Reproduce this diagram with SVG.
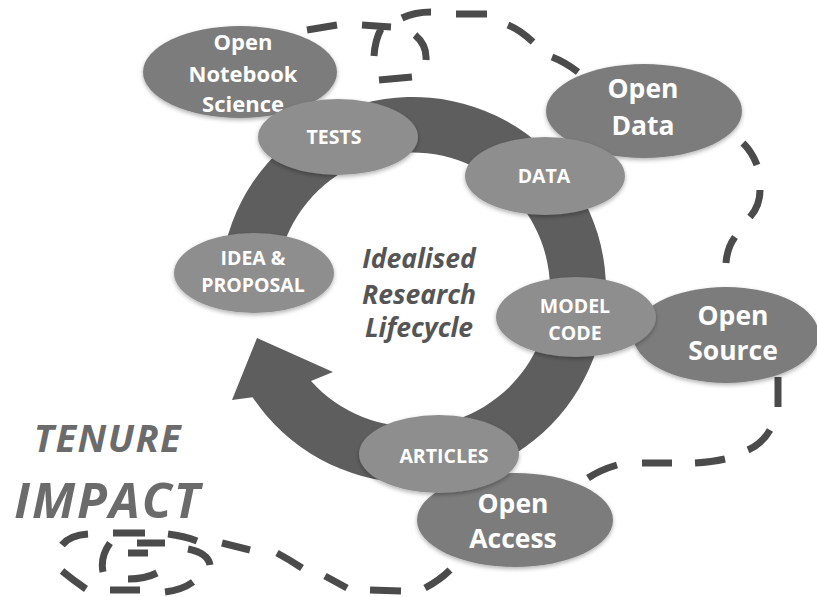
<svg xmlns="http://www.w3.org/2000/svg" width="817" height="597" viewBox="0 0 817 597">
<style>
.dash{fill:none;stroke:#4b4b4b;stroke-width:7;stroke-linecap:butt;stroke-linejoin:round}
.cyc{fill:#8e8e8e}
.opn{fill:#7b7b7b}
.lbl{font-family:"Open Sans","Liberation Sans",sans-serif;font-weight:bold;fill:#fff;text-anchor:middle}
.s18{font-size:19.5px}
.s23{font-size:22px}
.s28{font-size:26.5px}
.ctr{font-family:"Open Sans","Liberation Sans",sans-serif;font-weight:bold;font-style:italic;fill:#555;text-anchor:middle;font-size:26.5px}
.big{font-family:"Open Sans","Liberation Sans",sans-serif;font-weight:bold;font-style:italic;fill:#6b6b6b;text-anchor:middle}
</style>
<defs>
<filter id="sh" x="-20%" y="-20%" width="140%" height="150%">
<feDropShadow dx="0" dy="2" stdDeviation="2" flood-color="#000" flood-opacity="0.3"/>
</filter>
</defs>
<rect width="817" height="597" fill="#fff"/>
<g id="connectors">
<path class="dash" d="M307,30 L337,25 M362,25 L391,27 M381,29 Q375,40 374,56 M379,80 L412,77 M415,35 Q427,45 426,60 M402,18 Q415,12 431,12 M456,14 L487,14 M508,25 Q520,30 533,42 M552,57 Q565,62 578,72"/>
<path class="dash" d="M743,143 Q752,152 757,165 M760,190 Q760,206 750,217 M735,237 Q727,248 726,263"/>
<path class="dash" d="M778,377 L778,407 M770,430 Q762,444 748,450 M695,463 Q712,462 725,459 M642,463 L672,463 M588,478 Q600,470 617,465"/>
<path class="dash" d="M450,570 Q440,580 425,588 M370,590 L401,591 M325,576 Q336,582 347,588 M277,553 Q290,560 302,568 M222,543 L250,550 M168,534 Q184,536 197,541 M113,533 L145,533 M62,545 Q70,535 88,534 M62,571 Q73,580 86,589 M110,590 L140,590 M165,592 Q182,590 193,582 M188,549 Q208,553 210,565 M110,543 Q100,557 103,572 M137,543 L165,543 M128,553 L148,553 M128,579 Q145,579 157,573"/>
</g>
<g id="ring">
<path d="M220,290 A193,193 0 1 1 252.6,397.3 L232,400 L257,338 L333,372 L311,381 A137,137 0 1 0 276,290 Z" fill="#5e5e5e"/>
</g>
<g id="open-notebook">
<ellipse cx="240" cy="72" rx="97" ry="46" class="opn" filter="url(#sh)"/>
<text class="lbl s23" x="243" y="50">Open</text>
<text class="lbl s23" x="243" y="82">Notebook</text>
<text class="lbl s23" x="243" y="112">Science</text>
</g>
<g id="open-data">
<ellipse cx="644" cy="111" rx="98" ry="47" class="opn" filter="url(#sh)"/>
<text class="lbl s28" x="643" y="98">Open</text>
<text class="lbl s28" x="643" y="135">Data</text>
</g>
<g id="open-source">
<ellipse cx="726" cy="335" rx="93" ry="48" class="opn" filter="url(#sh)"/>
<text class="lbl s28" x="733" y="325">Open</text>
<text class="lbl s28" x="733" y="360">Source</text>
</g>
<g id="open-access">
<ellipse cx="515" cy="520" rx="98" ry="47" class="opn" filter="url(#sh)"/>
<text class="lbl s28" x="513" y="513">Open</text>
<text class="lbl s28" x="513" y="548">Access</text>
</g>
<g id="tests">
<ellipse cx="338" cy="137" rx="80" ry="38" class="cyc" filter="url(#sh)"/>
<text class="lbl s18" x="334" y="144">TESTS</text>
</g>
<g id="data">
<ellipse cx="545" cy="176" rx="80" ry="39" class="cyc" filter="url(#sh)"/>
<text class="lbl s18" x="544" y="183">DATA</text>
</g>
<g id="idea-proposal">
<ellipse cx="254" cy="273" rx="80" ry="40" class="cyc" filter="url(#sh)"/>
<text class="lbl s18" x="253" y="265">IDEA &amp;</text>
<text class="lbl s18" x="253" y="292">PROPOSAL</text>
</g>
<g id="model-code">
<ellipse cx="576" cy="317" rx="80" ry="40" class="cyc" filter="url(#sh)"/>
<text class="lbl s18" x="575" y="313">MODEL</text>
<text class="lbl s18" x="575" y="340">CODE</text>
</g>
<g id="articles">
<ellipse cx="439" cy="454" rx="80" ry="39" class="cyc" filter="url(#sh)"/>
<text class="lbl s18" x="444" y="463">ARTICLES</text>
</g>
<g id="center-label">
<text class="ctr" x="419" y="268">Idealised</text>
<text class="ctr" x="419" y="304">Research</text>
<text class="ctr" x="419" y="337">Lifecycle</text>
</g>
<g id="tenure-impact">
<text class="big" x="108" y="452" font-size="38" letter-spacing="1.5">TENURE</text>
<text class="big" x="108" y="518" font-size="49" letter-spacing="2">IMPACT</text>
</g>
</svg>
